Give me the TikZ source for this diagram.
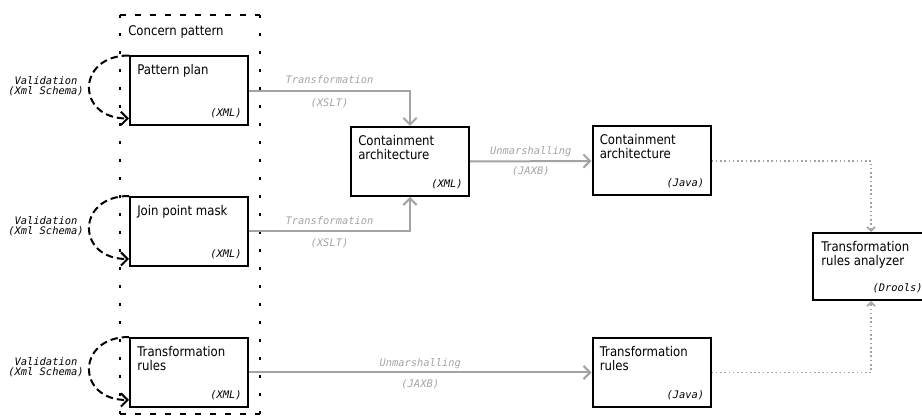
\documentclass[tikz,border=0pt]{standalone}
\usepackage{fontspec}
\setmainfont{DejaVu Sans}[FakeStretch=0.88]
\setmonofont{DejaVu Sans Mono}
\usetikzlibrary{arrows.meta, positioning, calc}

\definecolor{flowgray}{HTML}{A3A3A3}

\tikzset{
  model/.style={draw, line width=1.5pt, minimum width=88.5pt, minimum height=51.75pt, inner sep=0pt},
  title/.style={anchor=north west, inner sep=0pt, align=left, font=\fontsize{10}{10.5}\selectfont},
  tech/.style={anchor=south east, inner sep=0pt, font=\fontsize{7.8}{8}\selectfont\ttfamily\itshape},
  elabel/.style={inner sep=0pt, text=flowgray, font=\fontsize{7.8}{8}\selectfont\ttfamily\itshape},
  vlabel/.style={inner sep=0pt, align=center, font=\fontsize{7.8}{7.5}\selectfont\ttfamily\itshape},
  flow/.style={draw=flowgray, line width=1.5pt, -{Straight Barb[length=5pt, width=10pt]}},
  hint/.style={draw=flowgray, line width=1.2pt, dotted, -{Straight Barb[length=3pt, width=6pt]}},
  check/.style={line width=1.5pt, dash pattern=on 5.5pt off 3pt, -{Straight Barb[length=5pt, width=10pt]}},
  concern edge/.style={line width=1.5pt, dash pattern=on 4.5pt off 6.75pt},
  concern side/.style={line width=1.5pt, dash pattern=on 2.25pt off 11.25pt}
}

% box with a title at the top and the technology at the bottom
\newcommand{\modelbox}[4]{%
  \node[model] (#1) at (#2) {};
  \node[title] (#1-title) at ($(#1.north west)+(8,9)$) {#3};
  \node[tech] (#1-tech) at ($(#1.south east)+(-7,-8)$) {#4};
}

\begin{document}
\begin{tikzpicture}[x=0.75pt, y=-0.75pt]
\useasboundingbox (0,0) rectangle (922,416);
\clip (0,0) rectangle (922,416);

% concern pattern region
\draw[concern edge] (120,15) -- (260,15);
\draw[concern edge] (120,414) -- (260,414);
\draw[concern side] (120,15) -- (120,416);
\draw[concern side] (260,15) -- (260,416);
\node[anchor=west, inner sep=0pt, font=\fontsize{10}{10.5}\selectfont] (concern) at (128,32) {Concern pattern};

% models
\modelbox{pp}{189,91}{Pattern plan}{(XML)}
\modelbox{jpm}{189,231.5}{Join point mask}{(XML)}
\modelbox{trx}{189,372.5}{Transformation\\rules}{(XML)}
\modelbox{cax}{410,161.5}{Containment\\architecture}{(XML)}
\modelbox{caj}{651.5,161}{Containment\\architecture}{(Java)}
\modelbox{trj}{651.5,372.5}{Transformation\\rules}{(Java)}
\node[model, minimum width=87pt, minimum height=50.25pt] (tra) at (871,266.5) {};
\node[title] (tra-title) at ($(tra.north west)+(9,9)$) {Transformation\\rules analyzer};
\node[tech] (tra-tech) at ($(tra.south east)+(-7,-8)$) {(Drools)};

% validation loops
\foreach \m in {pp, jpm, trx} {
  \draw[check] (\m.north west) .. controls +(-53,0) and +(-53,0) .. ($(\m.south west)+(0,-8)$);
  \node[vlabel] (\m-valid) at ($(\m.west)+(-83,-5)$) {Validation\\(Xml Schema)};
}

% transformations
\draw[flow] (pp.east) -| (cax.north)
  node[elabel, pos=0.25, yshift=8.25pt] (t1a) {Transformation}
  node[elabel, pos=0.25, yshift=-9pt] (t1b) {(XSLT)};
\draw[flow] (jpm.east) -| (cax.south)
  node[elabel, pos=0.25, yshift=8.25pt] (t2a) {Transformation}
  node[elabel, pos=0.25, yshift=-9pt] (t2b) {(XSLT)};
\draw[flow] (cax.east) -- (caj.west)
  node[elabel, midway, yshift=7pt] (u1a) {Unmarshalling}
  node[elabel, midway, yshift=-7.5pt] (u1b) {(JAXB)};
\draw[flow] (trx.east) -- (trj.west)
  node[elabel, midway, yshift=6.5pt] (u2a) {Unmarshalling}
  node[elabel, midway, yshift=-8.5pt] (u2b) {(JAXB)};

% inputs of the analyzer
\draw[hint] (caj.east) -| (tra.north);
\draw[hint] (trj.east) -| (tra.south);
\end{tikzpicture}
\end{document}
